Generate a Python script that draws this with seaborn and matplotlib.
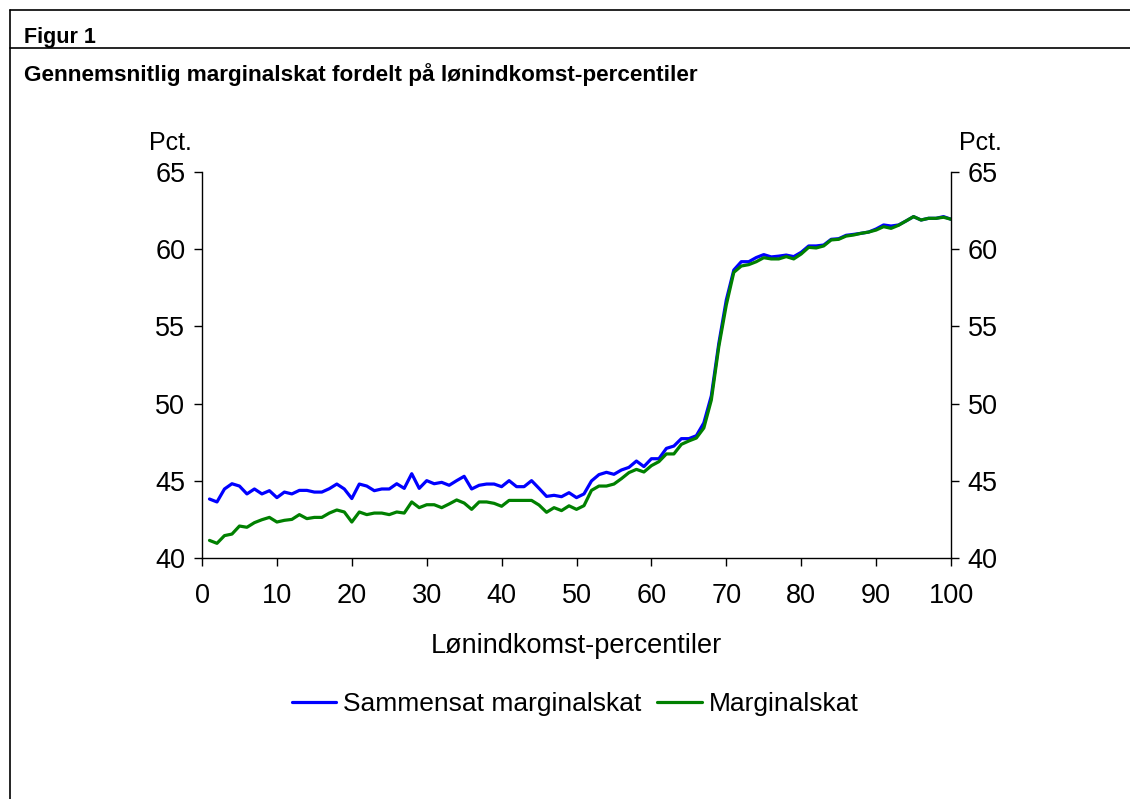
import pandas as pd
import matplotlib as mpl
import matplotlib.pyplot as plt
import numpy as np
import seaborn as sns

# Values, percentiles 1..100
percentiles = list(range(1, 101))

sammensat = [
    43.82, 43.63, 44.47, 44.81, 44.66, 44.15, 44.47, 44.15, 44.36, 43.91,
    44.27, 44.15, 44.38, 44.38, 44.27, 44.27, 44.49, 44.79, 44.47, 43.85,
    44.79, 44.66, 44.36, 44.47, 44.47, 44.81, 44.51, 45.46, 44.51, 45.01,
    44.81, 44.90, 44.71, 45.01, 45.29, 44.47, 44.71, 44.79, 44.79, 44.62,
    45.01, 44.62, 44.62, 45.01, 44.51, 43.99, 44.06, 43.97, 44.23, 43.91,
    44.15, 44.99, 45.40, 45.55, 45.42, 45.70, 45.87, 46.28, 45.92, 46.43,
    46.43, 47.10, 47.25, 47.73, 47.73, 47.92, 48.75, 50.50, 53.90, 56.71,
    58.65, 59.19, 59.19, 59.46, 59.65, 59.50, 59.55, 59.62, 59.52, 59.80,
    60.21, 60.21, 60.27, 60.64, 60.68, 60.90, 60.96, 61.03, 61.11, 61.31,
    61.57, 61.50, 61.57, 61.83, 62.11, 61.89, 62.00, 62.00, 62.11, 61.94,
]

marginal = [
    41.14, 40.95, 41.45, 41.55, 42.07, 41.99, 42.29, 42.48, 42.63, 42.33,
    42.44, 42.50, 42.81, 42.55, 42.63, 42.63, 42.91, 43.11, 42.98, 42.33,
    42.98, 42.81, 42.91, 42.91, 42.81, 42.98, 42.91, 43.63, 43.26, 43.45,
    43.45, 43.26, 43.50, 43.76, 43.56, 43.15, 43.63, 43.63, 43.54, 43.35,
    43.73, 43.73, 43.73, 43.73, 43.43, 42.96, 43.26, 43.07, 43.38, 43.15,
    43.39, 44.38, 44.66, 44.66, 44.79, 45.14, 45.53, 45.74, 45.57, 45.98,
    46.24, 46.74, 46.74, 47.36, 47.58, 47.77, 48.42, 50.23, 53.69, 56.39,
    58.50, 58.91, 59.00, 59.19, 59.45, 59.37, 59.37, 59.52, 59.37, 59.69,
    60.12, 60.08, 60.21, 60.60, 60.64, 60.85, 60.92, 61.03, 61.11, 61.24,
    61.46, 61.35, 61.55, 61.83, 62.11, 61.89, 62.00, 62.00, 62.07, 61.94,
]

series_names = ["Sammensat marginalskat", "Marginalskat"]
series_colors = ["#0000ff", "#008000"]
x_ticks = list(range(0, 101, 10))
y_ticks = [40, 45, 50, 55, 60, 65]

df = pd.DataFrame({
    "Percentil": percentiles * 2,
    "Pct": sammensat + marginal,
    "Serie": [series_names[0]] * len(percentiles) + [series_names[1]] * len(percentiles),
})

sns.set_style("white", {"text.color": "black", "axes.labelcolor": "black",
                        "xtick.color": "black", "ytick.color": "black",
                        "axes.edgecolor": "black"})
plt.rcParams["font.family"] = ["Liberation Sans", "DejaVu Sans"]

TICK_SIZE = 19.5
LEGEND_SIZE = 19
LINE_W = 2.3

fig = plt.figure(figsize=(11.3, 7.99), dpi=100, facecolor="w")
ax = fig.add_axes([202 / 1130, 1 - 558 / 799, (951 - 202) / 1130, (558 - 172) / 799])

sns.lineplot(
    data=df, x="Percentil", y="Pct", hue="Serie",
    palette=dict(zip(series_names, series_colors)),
    linewidth=LINE_W, ax=ax, legend=False,
)

ax.set_xlim(0, 100)
ax.set_ylim(40, 65)
ax.set_xticks(x_ticks)
ax.set_yticks(y_ticks)
ax.tick_params(axis="both", labelsize=TICK_SIZE, direction="out", length=6, width=1, color="black")
ax.tick_params(axis="y", left=True, right=True, labelleft=True, labelright=True, pad=6)
ax.tick_params(axis="x", bottom=True, pad=12)
for side in ["left", "right", "bottom"]:
    ax.spines[side].set_linewidth(1)
ax.spines["top"].set_visible(False)
ax.set_xlabel("Lønindkomst-percentiler", fontsize=TICK_SIZE, labelpad=17)
ax.set_ylabel("")

fig.text(170 / 1130, 1 - 143 / 799, "Pct.", fontsize=18, ha="center", va="center")
fig.text(980 / 1130, 1 - 143 / 799, "Pct.", fontsize=18, ha="center", va="center")

# Legend below the axis label
handles = [plt.Line2D([], [], color=c, linewidth=LINE_W) for c in series_colors]
fig.legend(handles, series_names, loc="center", bbox_to_anchor=(575 / 1130, 1 - 704 / 799),
           ncol=2, frameon=False, fontsize=LEGEND_SIZE, handlelength=1.7, handletextpad=0.25,
           columnspacing=0.6)

# Frame and headings of the figure box
fig.add_artist(plt.Line2D([10 / 1130, 1], [1 - 10 / 799] * 2, color="black", linewidth=1.2))
fig.add_artist(plt.Line2D([10 / 1130, 1], [1 - 48 / 799] * 2, color="black", linewidth=1.2))
fig.add_artist(plt.Line2D([10 / 1130] * 2, [0, 1 - 10 / 799], color="black", linewidth=1.2))
fig.text(24 / 1130, 1 - 37 / 799, "Figur 1", fontsize=15.5, fontweight="bold", va="center")
fig.text(24 / 1130, 1 - 75 / 799, "Gennemsnitlig marginalskat fordelt på lønindkomst-percentiler",
         fontsize=16.2, fontweight="bold", va="center")

fig.savefig("out.png", dpi=100, facecolor="w")
